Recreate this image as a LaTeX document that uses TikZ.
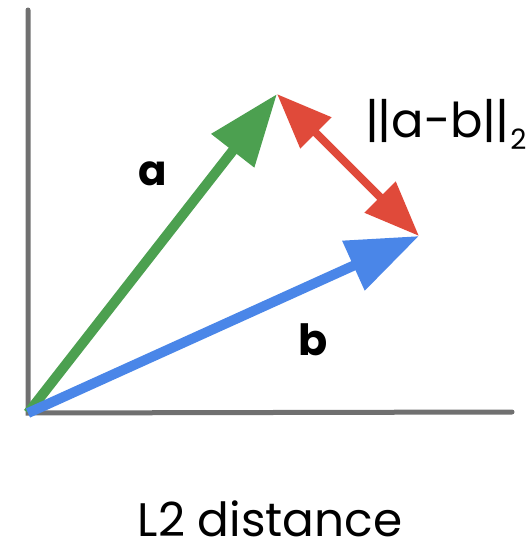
\documentclass[tikz,border=0pt]{standalone}
\usepackage{fontspec}
\setmainfont{Poppins}
\usetikzlibrary{arrows.meta}
\definecolor{axisgray}{HTML}{707070}
\definecolor{vgreen}{HTML}{4CA050}
\definecolor{vblue}{HTML}{4A86E8}
\definecolor{vred}{HTML}{E04A3A}
\tikzset{
  axisline/.style={axisgray, line width=5pt, line cap=round},
  vecarrow/.style={line width=10pt, -{Triangle[length=72pt,width=52pt]}},
  distarrow/.style={vred, line width=8pt, {Triangle[length=55pt,width=42pt]}-{Triangle[length=55pt,width=42pt]}},
  lbl/.style={inner sep=0pt, anchor=base}
}
\begin{document}
\begin{tikzpicture}[x=1pt,y=-1pt]
\useasboundingbox (0,0) rectangle (531,550);
\coordinate (O) at (28,413);
\coordinate (ytop) at (28,10);
\coordinate (xend) at (512,412);
\coordinate (A) at (277,94);
\coordinate (B) at (419,236);
\draw[axisline] (ytop) -- (O) -- (xend);
\draw[vecarrow, vgreen] (O) -- (A);
\draw[vecarrow, vblue] (O) -- (B);
\draw[distarrow] (A) -- (B);
\node[lbl, font=\fontsize{42}{42}\selectfont\bfseries] (la) at (153,185) {a};
\node[lbl, font=\fontsize{43}{43}\selectfont\bfseries] (lb) at (313,355) {b};
\node[lbl, anchor=base west, font=\fontsize{48}{48}\selectfont] (lnorm) at (365,137) {|\kern-1.5pt|a-b|\kern-1.5pt|\kern1pt\raisebox{-12pt}{\fontsize{28}{28}\selectfont 2}};
\node[lbl, font=\fontsize{47}{47}\selectfont] (title) at (270,536) {L2 distance};
\end{tikzpicture}
\end{document}
